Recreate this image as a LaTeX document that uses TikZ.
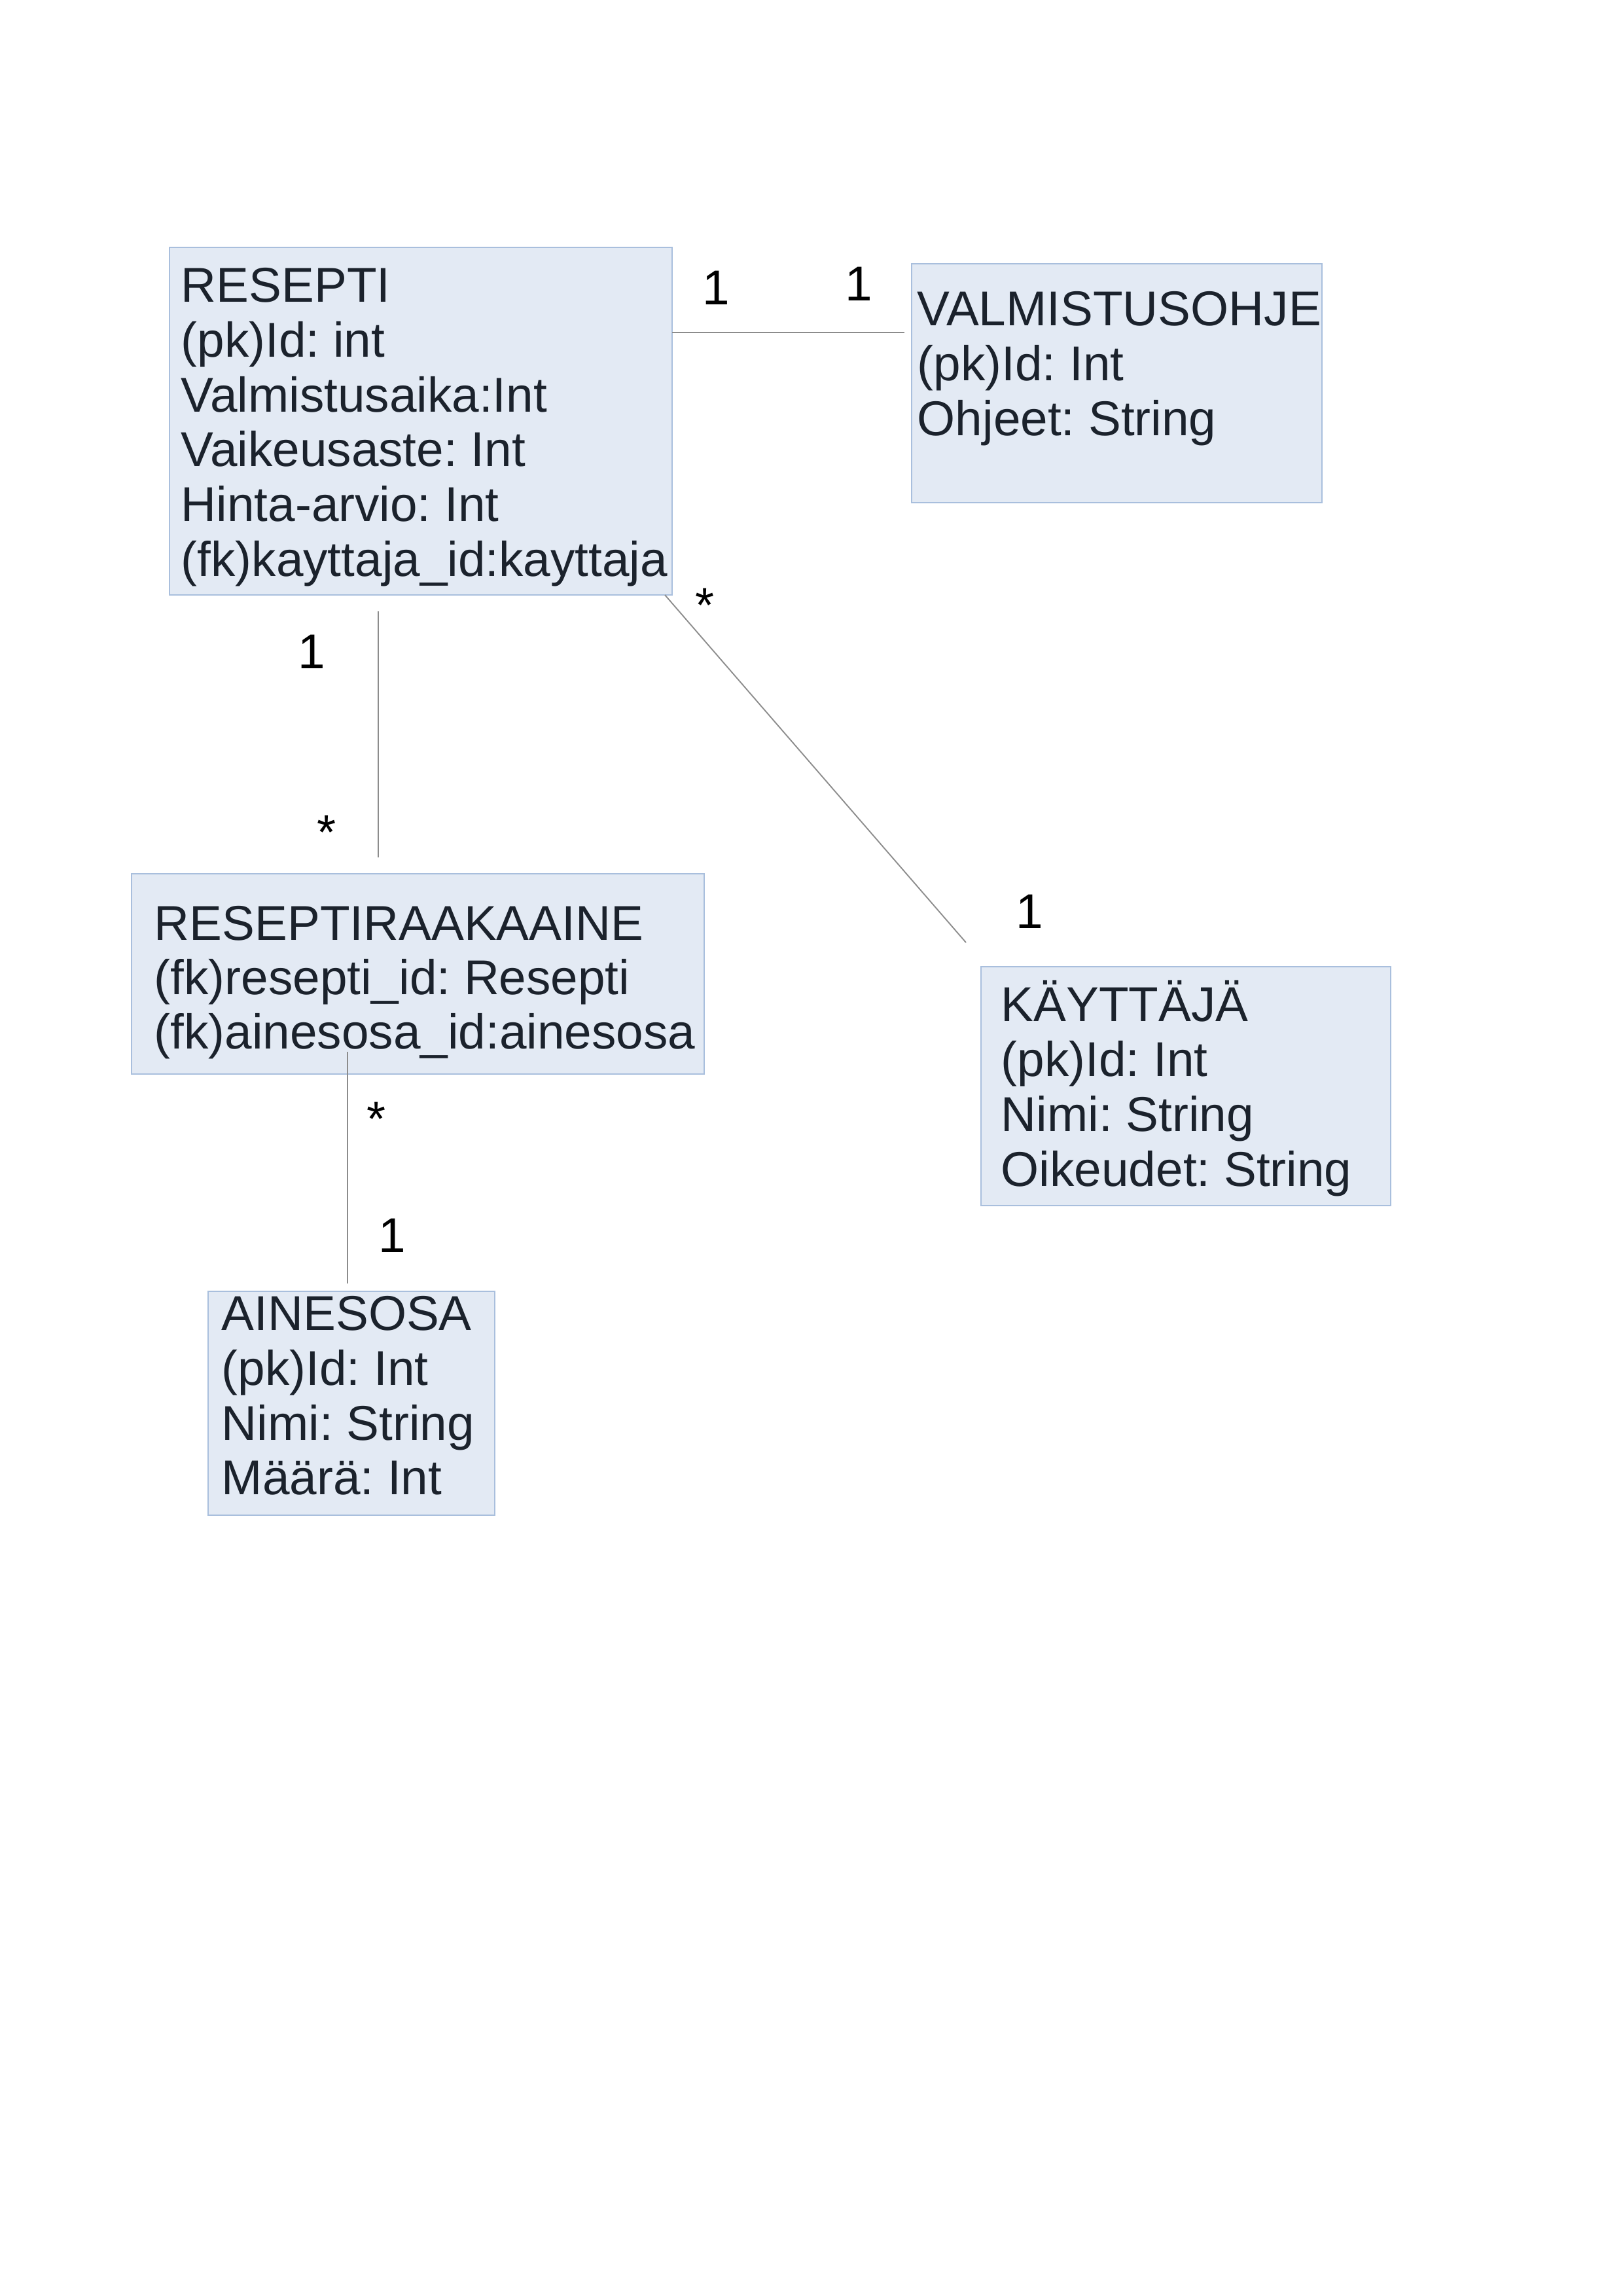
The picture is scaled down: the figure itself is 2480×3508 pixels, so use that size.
\documentclass[tikz,border=0pt]{standalone}
\usepackage{fontspec}
\setmainfont{Liberation Sans}
\definecolor{boxfill}{HTML}{E3EAF4}
\definecolor{boxline}{HTML}{A9BFDD}
\definecolor{txtcol}{HTML}{1B222C}
\definecolor{conn}{HTML}{8C8C8C}
\newdimen\pxu
\pxu=0.24094pt
\frenchspacing
\begin{document}
\frenchspacing
\begin{tikzpicture}[x=0.24094pt,y=-0.24094pt,
  entity/.style={draw=boxline, fill=boxfill, line width=0.45pt, inner sep=0pt, outer sep=0pt, anchor=north west},
  attrs/.style={inner sep=0pt, anchor=north west, align=left, text=txtcol, font=\fontsize{18}{20.2}\selectfont},
  mult/.style={inner sep=0pt, text=black, font=\fontsize{18}{20.2}\selectfont},
  link/.style={draw=conn, line width=0.45pt}]
\useasboundingbox (0,0) rectangle (2480,3508);
\fill[white] (0,0) rectangle (2480,3508);

% entity boxes
\node[entity, minimum width=768*\pxu, minimum height=531*\pxu] (resepti) at (259,378) {};
\node[entity, minimum width=627*\pxu, minimum height=365*\pxu] (valmistus) at (1393,403) {};
\node[entity, minimum width=875*\pxu, minimum height=306*\pxu] (raaka) at (201,1335) {};
\node[entity, minimum width=626*\pxu, minimum height=365*\pxu] (kayttaja) at (1499,1477) {};
\node[entity, minimum width=438*\pxu, minimum height=342*\pxu] (ainesosa) at (318,1973) {};

% texts
\node[attrs] (reseptitxt) at (276,392) {\rule{0pt}{16.5pt}RESEPTI\\(pk)Id: int\\Valmistusaika:Int\\Vaikeusaste: Int\\Hinta-arvio: Int\\(fk)kayttaja\_id:kayttaja};
\node[attrs] (valmistustxt) at (1401,428.5) {\rule{0pt}{16.5pt}VALMISTUSOHJE\\(pk)Id: Int\\Ohjeet: String};
\node[attrs, font=\fontsize{18}{19.9}\selectfont] (raakatxt) at (235,1367.5) {\rule{0pt}{16.5pt}RESEPTIRAAKAAINE\\(fk)resepti\_id: Resepti\\(fk)ainesosa\_id:ainesosa};
\node[attrs] (kayttajatxt) at (1529,1491.5) {\rule{0pt}{16.5pt}KÄYTTÄJÄ\\(pk)Id: Int\\Nimi: String\\Oikeudet: String};
\node[attrs] (ainesosatxt) at (338,1963) {\rule{0pt}{16.5pt}AINESOSA\\(pk)Id: Int\\Nimi: String\\Määrä: Int};

% connector end points
\coordinate (c1a) at (1027,508);
\coordinate (c1b) at (1382,508);
\coordinate (c2a) at (578,934);
\coordinate (c2b) at (578,1310);
\coordinate (c3a) at (1016,909);
\coordinate (c3b) at (1476,1440);
\coordinate (c4a) at (531,1607);
\coordinate (c4b) at (531,1961);

\draw[link] (c1a) -- (c1b);
\draw[link] (c2a) -- (c2b);
\draw[link] (c3a) -- (c3b);
\draw[link] (c4a) -- (c4b);

% multiplicities
\node[mult] (m1) at (1094,439.5) {1};
\node[mult] (m2) at (1312,434) {1};
\node[mult] (m3) at (476,995.7) {1};
\node[mult, anchor=base] (m4) at (499,1297) {*};
\node[mult, anchor=base] (m5) at (1077,950) {*};
\node[mult] (m6) at (1573,1393) {1};
\node[mult, anchor=base] (m7) at (575,1735) {*};
\node[mult] (m8) at (599,1888) {1};
\end{tikzpicture}
\end{document}
